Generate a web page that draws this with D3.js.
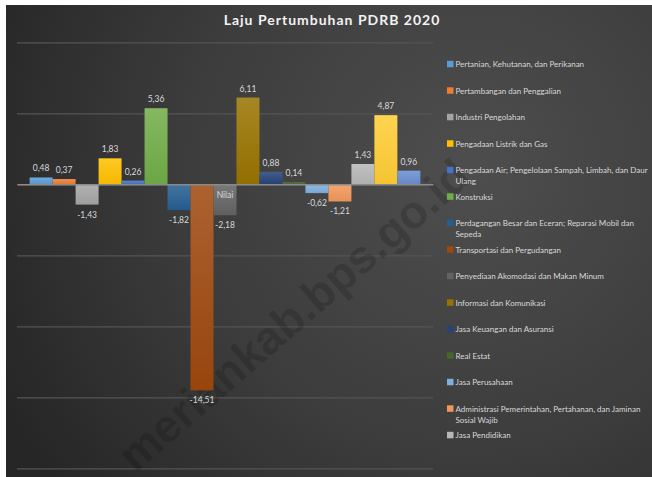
<!DOCTYPE html>
<html>
<head>
<meta charset="utf-8">
<script src="https://cdn.jsdelivr.net/npm/d3@7/dist/d3.min.js"></script>
<style>
  html, body { margin: 0; padding: 0; background: #ffffff; }
  svg { display: block; }
  text { font-family: Lato, "Open Sans", sans-serif; }
</style>
</head>
<body>
<svg id="chart" width="652" height="477"></svg>
<script>
// Sector names (category of each bar)
const sectors = [
  "Pertanian, Kehutanan, dan Perikanan",
  "Pertambangan dan Penggalian",
  "Industri Pengolahan",
  "Pengadaan Listrik dan Gas",
  "Pengadaan Air; Pengelolaan Sampah, Limbah, dan Daur Ulang",
  "Konstruksi",
  "Perdagangan Besar dan Eceran; Reparasi Mobil dan Sepeda",
  "Transportasi dan Pergudangan",
  "Penyediaan Akomodasi dan Makan Minum",
  "Informasi dan Komunikasi",
  "Jasa Keuangan dan Asuransi",
  "Real Estat",
  "Jasa Perusahaan",
  "Administrasi Pemerintahan, Pertahanan, dan Jaminan Sosial Wajib",
  "Jasa Pendidikan",
  "Jasa Kesehatan dan Kegiatan Sosial",
  "Jasa Lainnya"
];
// Growth rate 2020 (%)
const growth = [0.48, 0.37, -1.43, 1.83, 0.26, 5.36, -1.82, -14.51, -2.18, 6.11, 0.88, 0.14, -0.62, -1.21, 1.43, 4.87, 0.96];
// Series colours
const colors = [
  "#5B9BD5", "#ED7D31", "#A5A5A5", "#FFC000", "#4472C4", "#70AD47",
  "#255E91", "#9E480E", "#636363", "#997300", "#264478", "#43682B",
  "#7CAFDD", "#F1975A", "#B7B7B7", "#FFCD33", "#698ED0"
];
const yTicks = [-20, -15, -10, -5, 0, 5, 10];
const categoryLabel = "Nilai";
const title = "Laju Pertumbuhan PDRB 2020";
const legendShown = 15;

const svg = d3.select("#chart");
const defs = svg.append("defs");

// Chart area
const area = { x: 6, y: 5, w: 646, h: 472 };
const bg = defs.append("radialGradient").attr("id", "bg")
  .attr("gradientUnits", "userSpaceOnUse")
  .attr("cx", 470).attr("cy", 170).attr("r", 520);
bg.append("stop").attr("offset", "0%").attr("stop-color", "#4e4e4e");
bg.append("stop").attr("offset", "55%").attr("stop-color", "#3c3c3c");
bg.append("stop").attr("offset", "100%").attr("stop-color", "#262626");

defs.append("clipPath").attr("id", "areaClip")
  .append("rect").attr("x", area.x).attr("y", area.y).attr("width", area.w).attr("height", area.h);

svg.append("rect").attr("x", area.x).attr("y", area.y)
  .attr("width", area.w).attr("height", area.h).attr("fill", "url(#bg)");

// Plot area
const plot = { left: 17, right: 433, top: 42.3, bottom: 468.3 };

const x = d3.scaleBand().domain(sectors)
  .range([plot.left, plot.right]).paddingInner(0).paddingOuter(0.55);
const y = d3.scaleLinear().domain([-20, 10]).range([plot.bottom, plot.top]);

// Gridlines
svg.append("g")
  .attr("transform", `translate(${plot.left},0)`)
  .call(d3.axisLeft(y).tickValues(yTicks).tickSize(-(plot.right - plot.left)).tickFormat(""))
  .call(g => g.select(".domain").remove())
  .call(g => g.selectAll(".tick line").attr("stroke", "#545454").attr("stroke-width", 1.3));

// Watermark
svg.append("g").attr("clip-path", "url(#areaClip)")
  .append("text")
  .attr("transform", "translate(304,327) rotate(-41)")
  .attr("text-anchor", "middle")
  .style("font-family", "'Liberation Sans', Arial, sans-serif")
  .style("font-weight", "bold")
  .style("font-size", "46px")
  .attr("fill", "rgba(0,0,0,0.16)")
  .text("meriankab.bps.go.id");

// Bar gradients
colors.forEach((c, i) => {
  const g = defs.append("linearGradient").attr("id", "bar" + i)
    .attr("x1", 0).attr("y1", 0).attr("x2", 0).attr("y2", 1);
  g.append("stop").attr("offset", "0%").attr("stop-color", d3.interpolateRgb(c, "#ffffff")(0.14));
  g.append("stop").attr("offset", "100%").attr("stop-color", d3.color(c).darker(0.12));
});

const rows = sectors.map((s, i) => ({ s, v: growth[i], i }));

svg.append("g").selectAll("rect").data(rows).join("rect")
  .attr("x", d => x(d.s))
  .attr("width", x.bandwidth())
  .attr("y", d => y(Math.max(0, d.v)))
  .attr("height", d => Math.abs(y(d.v) - y(0)))
  .attr("fill", d => `url(#bar${d.i})`);

// Zero axis line
svg.append("g")
  .attr("transform", `translate(0,${y(0)})`)
  .call(d3.axisBottom(x).tickSize(0).tickFormat(""))
  .call(g => g.select(".domain").attr("stroke", "#8a8a8a").attr("stroke-width", 1.5));

// Category label
svg.append("text")
  .attr("x", (plot.left + plot.right) / 2).attr("y", y(0) + 14)
  .attr("text-anchor", "middle").attr("fill", "#d9d9d9")
  .style("font-size", "8.5px").text(categoryLabel);

// Value labels
const fmt = v => d3.format(".2f")(v).replace(".", ",").replace("−", "-");
svg.append("g").selectAll("text").data(rows).join("text")
  .attr("x", d => x(d.s) + x.bandwidth() / 2)
  .attr("y", d => d.v >= 0 ? y(d.v) - 6 : y(d.v) + 13)
  .attr("text-anchor", "middle")
  .attr("fill", "#d9d9d9")
  .style("font-size", "8.5px")
  .text(d => fmt(d.v));

// Title
svg.append("text")
  .attr("x", 332).attr("y", 25)
  .attr("text-anchor", "middle")
  .attr("fill", "#f2f2f2")
  .style("font-size", "14px").style("font-weight", "bold")
  .style("letter-spacing", "1px")
  .text(title);

// Legend
const legend = svg.append("g");
const textX = 455.5, wrapW = 197;
rows.slice(0, legendShown).forEach((d, k) => {
  const cy = 64.3 + 26.5 * k;
  legend.append("rect").attr("x", 447).attr("y", cy - 3.5)
    .attr("width", 6.5).attr("height", 6.5).attr("fill", colors[d.i]);
  const t = legend.append("text").attr("x", textX).attr("y", cy + 3)
    .attr("fill", "#d9d9d9").style("font-size", "8px");
  const words = d.s.split(" ");
  let line = [], tspan = t.append("tspan").attr("x", textX).attr("dy", 0);
  let lineNo = 0;
  words.forEach(w => {
    line.push(w);
    tspan.text(line.join(" "));
    if (tspan.node().getComputedTextLength() > wrapW && line.length > 1) {
      line.pop();
      tspan.text(line.join(" "));
      line = [w];
      lineNo++;
      tspan = t.append("tspan").attr("x", textX).attr("dy", 11).text(w);
    }
  });
});
</script>
</body>
</html>
